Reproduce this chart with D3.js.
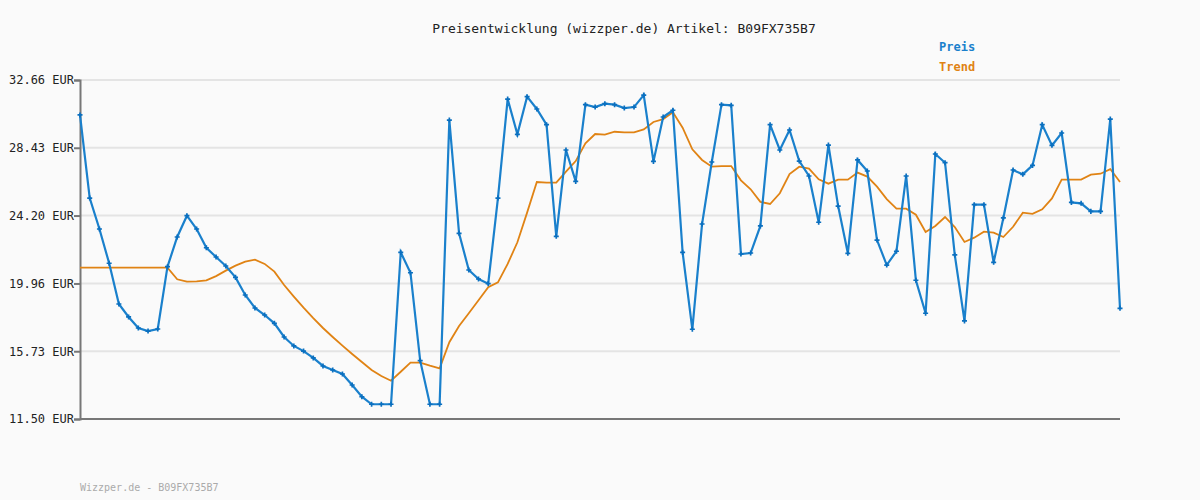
<!DOCTYPE html>
<html><head><meta charset="utf-8">
<script src="https://cdn.jsdelivr.net/npm/d3@7"></script>
<style>body{margin:0;background:#fafafa}svg{display:block}text{font-family:"DejaVu Sans Mono",monospace}</style>
</head><body>
<svg id="chart" width="1200" height="500"></svg>
<script>
var title = 'Preisentwicklung (wizzper.de) Artikel: B09FX735B7';
var yTicks = [11.50, 15.73, 19.96, 24.20, 28.43, 32.66];
var preis = [30.48,25.29,23.36,21.22,18.68,17.87,17.18,16.99,17.12,21.01,22.86,24.19,23.36,22.19,21.61,21.05,20.34,19.24,18.43,17.99,
  17.47,16.62,16.06,15.74,15.31,14.81,14.56,14.31,13.62,12.89,12.42,12.42,12.42,21.90,20.63,15.14,12.42,12.42,30.16,23.09,
  20.80,20.24,19.95,25.29,31.47,29.27,31.62,30.85,29.87,22.90,28.29,26.33,31.12,30.97,31.18,31.12,30.91,30.97,31.72,27.58,
  30.35,30.77,21.90,17.10,23.67,27.54,31.12,31.08,21.80,21.86,23.55,29.87,28.29,29.54,27.60,26.67,23.78,28.60,24.79,21.84,
  27.67,26.98,22.67,21.11,21.97,26.67,20.16,18.10,28.04,27.50,21.74,17.62,24.88,24.88,21.28,24.05,27.04,26.77,27.33,29.87,
  28.58,29.35,25.02,24.96,24.46,24.46,30.22,18.41];
var trend = [20.95,20.95,20.95,20.95,20.95,20.95,20.95,20.95,20.95,20.95,20.22,20.07,20.09,20.15,20.42,20.76,21.07,21.32,21.45,21.18,
  20.70,19.86,19.14,18.45,17.80,17.18,16.62,16.08,15.56,15.06,14.56,14.18,13.89,14.45,15.02,15.02,14.83,14.66,16.29,17.30,
  18.10,18.91,19.72,20.03,21.18,22.53,24.38,26.29,26.25,26.25,26.94,27.60,28.71,29.29,29.25,29.43,29.39,29.39,29.58,30.04,
  30.22,30.64,29.68,28.33,27.67,27.25,27.29,27.29,26.40,25.84,25.05,24.92,25.59,26.79,27.25,27.13,26.46,26.19,26.44,26.44,
  26.88,26.63,26.00,25.23,24.63,24.63,24.25,23.17,23.55,24.11,23.48,22.55,22.82,23.19,23.13,22.86,23.50,24.38,24.30,24.59,
  25.27,26.44,26.44,26.44,26.75,26.81,27.10,26.29];
var footer = 'Wizzper.de - B09FX735B7';

var svg = d3.select('#chart');
var x = d3.scaleLinear().domain([0, preis.length - 1]).range([80, 1120]);
var y = d3.scaleLinear().domain([11.50, 32.66]).range([419, 80]);

// grid
svg.selectAll('.grid').data(yTicks.slice(1)).enter().append('line')
	.attr('x1', 80).attr('x2', 1120).attr('y1', d => y(d)).attr('y2', d => y(d))
	.attr('stroke', '#e4e4e4').attr('stroke-width', 2);

svg.append('g').attr('transform', 'translate(80,0)')
	.call(d3.axisLeft(y).tickValues(yTicks).tickSize(6).tickFormat(d => d3.format('.2f')(d) + ' EUR'))
	.call(g => g.select('.domain').attr('stroke', '#777').attr('stroke-width', 2))
	.call(g => g.selectAll('line').attr('stroke', '#777').attr('stroke-width', 2))
	.call(g => g.selectAll('text').attr('font-family', 'DejaVu Sans Mono').attr('font-size', 12).attr('fill', '#222').attr('x', -6));
svg.append('line').attr('x1', 80).attr('x2', 1120).attr('y1', 419).attr('y2', 419)
	.attr('stroke', '#777').attr('stroke-width', 2);

var line = d3.line().x((d, i) => x(i)).y(d => y(d));
svg.append('path').datum(trend).attr('d', line).attr('fill', 'none')
	.attr('stroke', '#e08314').attr('stroke-width', 1.8);
svg.append('path').datum(preis).attr('d', line).attr('fill', 'none')
	.attr('stroke', '#1a80cc').attr('stroke-width', 2.2);
svg.selectAll('.pt').data(preis).enter().append('path')
	.attr('transform', (d, i) => 'translate(' + x(i) + ',' + y(d) + ')')
	.attr('d', d3.symbol(d3.symbolCross, 14)).attr('fill', '#0a6fbf');

svg.append('text').attr('x', 624).attr('y', 33).attr('text-anchor', 'middle')
	.attr('font-size', 13).attr('fill', '#222').text(title);
svg.append('text').attr('x', 939).attr('y', 51).attr('font-size', 12).attr('font-weight', 'bold')
	.attr('fill', '#1a80cc').text('Preis');
svg.append('text').attr('x', 939).attr('y', 71).attr('font-size', 12).attr('font-weight', 'bold')
	.attr('fill', '#e08314').text('Trend');
svg.append('text').attr('x', 80).attr('y', 491).attr('font-size', 10).attr('fill', '#aaa').text(footer);
</script>
</body></html>
